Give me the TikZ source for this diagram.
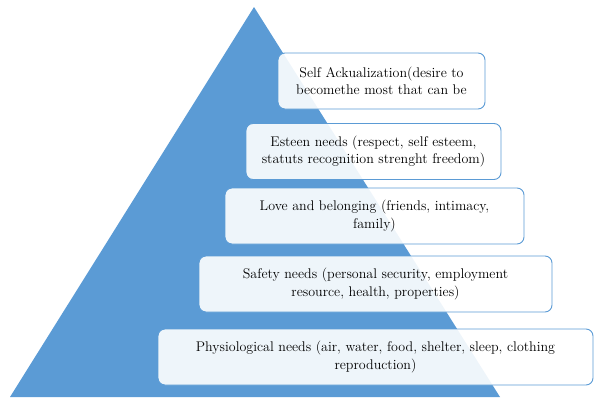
\documentclass[tikz,border=0pt]{standalone}
\usepackage{tikz}
\usepackage{xcolor}
\definecolor{pyrblue}{HTML}{5B9BD5}

\begin{document}
\begin{tikzpicture}[x=1pt,y=-1pt]
\tikzset{level/.style={draw=pyrblue, line width=0.9pt, fill=white, fill opacity=0.9, text opacity=1, rounded corners=7pt, align=center, inner sep=0pt, minimum height=56pt, font=\rmfamily\fontsize{14}{17.5}\selectfont}}
\useasboundingbox (0,0) rectangle (598,402);
\coordinate (apex) at (254,7);
\coordinate (left) at (10,397);
\coordinate (right) at (500,397);
\fill [pyrblue] (apex) -- (right) -- (left) -- cycle;
\node [level, minimum width=207pt] (self) at (381.5,81) {Self Ackualization(desire to\\becomethe most that can be};
\node [level, minimum width=255pt] (esteem) at (373.5,151.5) {Esteen needs (respect, self esteem,\\statuts recognition strenght freedom)};
\node [level, minimum width=299pt] (love) at (374.5,216) {Love and belonging (friends, intimacy,\\family)};
\node [level, minimum width=353pt] (safety) at (375.5,284) {Safety needs (personal security, employment\\resource, health, properties)};
\node [level, minimum width=435pt] (physio) at (375.5,357) {Physiological needs (air, water, food, shelter, sleep, clothing\\reproduction)};
\end{tikzpicture}
\end{document}
